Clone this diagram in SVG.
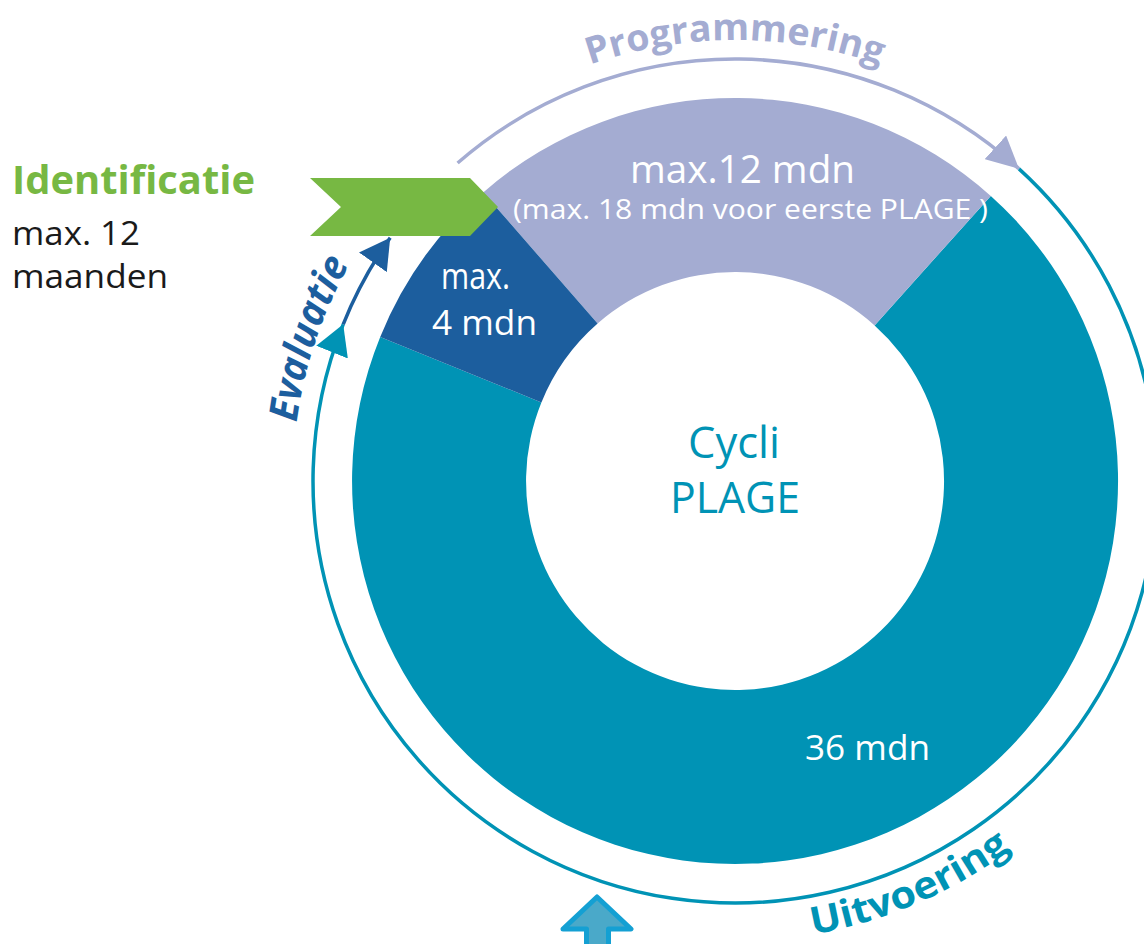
<svg xmlns="http://www.w3.org/2000/svg" width="1144" height="944" viewBox="0 0 1144 944">
<style>
text{font-family:"Open Sans","Noto Sans","DejaVu Sans",sans-serif}
.w{fill:#ffffff}
.k{fill:#1a1a1a}
.ring{fill:none;stroke-width:3.5}
.lav{fill:#a4acd2}
.dblue{fill:#1c5e9e}
.teal{fill:#0093b5}
.bold{font-weight:700}
</style>
<defs>
<marker id="ahLav" markerUnits="userSpaceOnUse" viewBox="0 0 32 32" markerWidth="32" markerHeight="32" refX="32" refY="16" orient="auto"><path d="M0,0 L32,16 L0,32 Z" fill="#a4acd2"/></marker>
<marker id="ahTeal" markerUnits="userSpaceOnUse" viewBox="0 0 30 34" markerWidth="30" markerHeight="34" refX="30" refY="17" orient="auto"><path d="M0,0 L30,17 L0,34 Z" fill="#0093b5"/></marker>
<marker id="ahBlue" markerUnits="userSpaceOnUse" viewBox="0 0 30 34" markerWidth="30" markerHeight="34" refX="30" refY="17" orient="auto"><path d="M0,0 L30,17 L0,34 Z" fill="#1c5e9e"/></marker>
<path id="pProg" d="M 423.2 169.2 A 441 441 0 0 1 1046.8 169.2"/>
<path id="pEval" d="M 323.4 643.1 A 442 442 0 0 1 504 104.1"/>
<path id="pUit" d="M 602.8 921.6 A 460 460 0 0 0 1146 687.7"/>
</defs>

<g id="seg-uitvoering">
<path class="teal" d="M 990.8 195.9 A 383 383 0 1 1 380.2 336.9 L 541.4 402.4 A 209 209 0 1 0 874.6 325.4 Z"/>
<text class="w" x="805" y="760" font-size="35" textLength="125" lengthAdjust="spacingAndGlyphs">36 mdn</text>
</g>
<g id="seg-programmering">
<path class="lav" d="M 483.2 192.4 A 383 383 0 0 1 990.8 195.9 L 874.6 325.4 A 209 209 0 0 0 597.6 323.5 Z"/>
<text class="w" x="630" y="183" font-size="38" textLength="225" lengthAdjust="spacingAndGlyphs">max.12 mdn</text>
<text class="w" x="513" y="219" font-size="27" textLength="475" lengthAdjust="spacingAndGlyphs">(max. 18 mdn voor eerste PLAGE )</text>
</g>
<g id="seg-evaluatie">
<path class="dblue" d="M 380.2 336.9 A 383 383 0 0 1 483.2 192.4 L 597.6 323.5 A 209 209 0 0 0 541.4 402.4 Z"/>
<text class="w" x="441" y="289" font-size="37" textLength="69" lengthAdjust="spacingAndGlyphs">max.</text>
<text class="w" x="432" y="335" font-size="35" textLength="105" lengthAdjust="spacingAndGlyphs">4 mdn</text>
</g>
<g id="center">
<text class="teal" x="734" y="458" font-size="44" text-anchor="middle" textLength="92" lengthAdjust="spacingAndGlyphs">Cycli</text>
<text class="teal" x="735" y="513" font-size="44" text-anchor="middle" textLength="130" lengthAdjust="spacingAndGlyphs">PLAGE</text>
</g>

<g id="identificatie">
<polygon points="310,178 470,178 498,207 470,236 310,236 341,207" fill="#77b843"/>
<text class="bold" x="12" y="194" font-size="39" fill="#77b843" textLength="243" lengthAdjust="spacingAndGlyphs">Identificatie</text>
<text class="k" x="12" y="245" font-size="33" textLength="128" lengthAdjust="spacingAndGlyphs">max. 12</text>
<text class="k" x="12" y="288" font-size="33" textLength="156" lengthAdjust="spacingAndGlyphs">maanden</text>
</g>

<g id="connectors">
<path class="ring" stroke="#a4acd2" d="M 457.6 163 A 422 422 0 0 1 1019 168.9" marker-end="url(#ahLav)"/>
<path class="ring" stroke="#0093b5" d="M 1019 168.9 A 422 422 0 1 1 343.2 324.3" marker-end="url(#ahTeal)"/>
<path class="ring" stroke="#1c5e9e" d="M 343.2 324.3 A 422 422 0 0 1 390.2 237.8" marker-end="url(#ahBlue)"/>
</g>

<g id="labels">
<text class="bold" font-size="37" fill="#a4acd2"><textPath href="#pProg" startOffset="50%" text-anchor="middle" textLength="296" lengthAdjust="spacingAndGlyphs">Programmering</textPath></text>
<text class="bold" font-size="40" font-style="italic" fill="#1c5e9e"><textPath href="#pEval" startOffset="50%" text-anchor="middle" textLength="168" lengthAdjust="spacingAndGlyphs">Evaluatie</textPath></text>
<text class="bold" font-size="38" fill="#0093b5"><textPath href="#pUit" startOffset="50%" text-anchor="middle" textLength="218" lengthAdjust="spacingAndGlyphs">Uitvoering</textPath></text>
</g>

<g id="start-arrow">
<polygon points="597,897 631,929 608.5,929 608.5,950 586.5,950 586.5,929 563,929" fill="#4aa9c9" stroke="#14a0d3" stroke-width="5" stroke-linejoin="round"/>
</g>
</svg>
